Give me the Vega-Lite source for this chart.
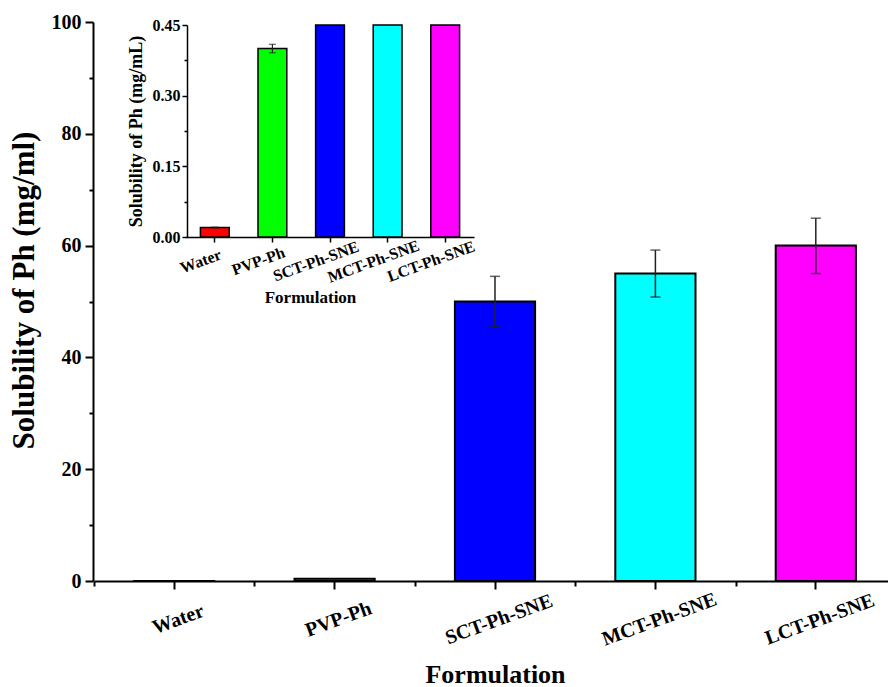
{
  "$schema": "https://vega.github.io/schema/vega-lite/v6.json",
  "autosize": "none",
  "padding": {"left": 93, "top": 22, "right": 0, "bottom": 106},
  "width": 795,
  "height": 559,
  "background": "white",
  "data": {
    "values": [
      {"f": "Water", "sol": 0.02, "lo": 0.019, "hi": 0.021},
      {"f": "PVP-Ph", "sol": 0.4, "lo": 0.391, "hi": 0.409},
      {"f": "SCT-Ph-SNE", "sol": 50, "lo": 45.5, "hi": 54.5},
      {"f": "MCT-Ph-SNE", "sol": 55, "lo": 50.8, "hi": 59.2},
      {"f": "LCT-Ph-SNE", "sol": 60, "lo": 55, "hi": 64.9}
    ]
  },
  "config": {
    "view": {"stroke": null},
    "axis": {
      "labelFont": "Liberation Serif",
      "titleFont": "Liberation Serif",
      "labelFontWeight": "bold",
      "titleFontWeight": "bold",
      "labelColor": "black",
      "titleColor": "black",
      "domainColor": "black",
      "tickColor": "black",
      "grid": false
    }
  },
  "resolve": {"scale": {"x": "independent", "y": "independent", "color": "shared"}},
  "layer": [
    {
      "layer": [
        {
          "mark": {"type": "bar", "stroke": "black", "strokeWidth": 2},
          "encoding": {
            "x": {
              "field": "f", "type": "nominal",
              "scale": {"domain": ["Water", "PVP-Ph", "SCT-Ph-SNE", "MCT-Ph-SNE", "LCT-Ph-SNE"], "range": [1, 803], "paddingInner": 0.5, "paddingOuter": 0.25},
              "axis": {
                "orient": "bottom", "title": "Formulation", "titleFontSize": 26, "titleY": 101, "titleBaseline": "alphabetic",
                "labelAngle": -20, "labelAlign": "center", "labelBaseline": "middle", "labelPadding": 30, "labelOffset": 4,
                "labelFontSize": 20, "tickSize": 8, "tickWidth": 2, "domainWidth": 2, "zindex": 1
              }
            },
            "y": {
              "field": "sol", "type": "quantitative",
              "scale": {"domain": [0, 100], "nice": false},
              "axis": {
                "orient": "left", "title": "Solubility of Ph (mg/ml)", "titleFontSize": 31, "titleX": -60, "titleY": 268,
                "titleAngle": -90, "titleAlign": "center", "titleBaseline": "alphabetic",
                "values": [0, 10, 20, 30, 40, 50, 60, 70, 80, 90, 100],
                "labelExpr": "datum.value % 20 === 0 ? datum.label : ''",
                "tickSize": {"condition": {"test": "datum.value % 20 === 0", "value": 8}, "value": 4},
                "tickWidth": 2, "domainWidth": 2, "labelFontSize": 20, "labelPadding": 4, "zindex": 1
              }
            },
            "color": {
              "field": "f", "type": "nominal",
              "scale": {"domain": ["Water", "PVP-Ph", "SCT-Ph-SNE", "MCT-Ph-SNE", "LCT-Ph-SNE"], "range": ["#ff0000", "#00ff00", "#0000ff", "#00ffff", "#ff00ff"]},
              "legend": null
            }
          }
        },
        {
          "transform": [{"filter": "datum.sol > 1"}],
          "mark": {"type": "rule", "color": "#222222", "strokeWidth": 1.5},
          "encoding": {
            "x": {"field": "f", "type": "nominal"},
            "y": {"field": "lo", "type": "quantitative"},
            "y2": {"field": "hi"}
          }
        },
        {
          "transform": [{"filter": "datum.sol > 1"}],
          "mark": {"type": "tick", "color": "#222222", "thickness": 1.5, "size": 10, "orient": "horizontal"},
          "encoding": {
            "x": {"field": "f", "type": "nominal"},
            "y": {"field": "lo", "type": "quantitative"}
          }
        },
        {
          "transform": [{"filter": "datum.sol > 1"}],
          "mark": {"type": "tick", "color": "#222222", "thickness": 1.5, "size": 10, "orient": "horizontal"},
          "encoding": {
            "x": {"field": "f", "type": "nominal"},
            "y": {"field": "hi", "type": "quantitative"}
          }
        }
      ]
    },
    {
      "mark": {"type": "bar", "opacity": 0},
      "encoding": {
        "x": {
          "field": "f", "type": "nominal",
          "scale": {"type": "band", "domain": ["Water", "PVP-Ph", "SCT-Ph-SNE", "MCT-Ph-SNE", "LCT-Ph-SNE"], "range": [1, 803], "paddingInner": 0, "paddingOuter": 0},
          "axis": {"orient": "bottom", "tickBand": "extent", "labels": false, "domain": false, "tickSize": 5, "tickWidth": 2, "title": null, "zindex": 1}
        }
      }
    },
    {
      "layer": [
        {
          "mark": {"type": "bar", "stroke": "black", "strokeWidth": 1.5},
          "encoding": {
            "x": {
              "field": "f", "type": "nominal",
              "scale": {"domain": ["Water", "PVP-Ph", "SCT-Ph-SNE", "MCT-Ph-SNE", "LCT-Ph-SNE"], "range": [93, 381], "paddingInner": 0.5, "paddingOuter": 0.25},
              "axis": {
                "orient": "bottom", "offset": -344, "title": "Formulation", "titleFontSize": 17, "titleX": 217, "titleY": 65,
                "titleAlign": "center", "titleBaseline": "alphabetic",
                "labelAngle": -20, "labelAlign": "center", "labelBaseline": "middle", "labelPadding": 19, "labelOffset": -14,
                "labelFontSize": 16, "tickSize": 5, "tickWidth": 1.5, "domainWidth": 1.5
              }
            },
            "y": {
              "field": "sol", "type": "quantitative",
              "scale": {"domain": [0, 0.45], "range": [215, 3], "clamp": true, "nice": false},
              "axis": {
                "orient": "left", "offset": -94, "title": "Solubility of Ph (mg/mL)", "titleFontSize": 18, "titleX": -46, "titleY": 109,
                "titleAngle": -90, "titleAlign": "center", "titleBaseline": "alphabetic",
                "values": [0, 0.075, 0.15, 0.225, 0.3, 0.375, 0.45], "format": ".2f",
                "labelExpr": "indexof([0, 0.15, 0.3, 0.45], datum.value) >= 0 ? datum.label : ''",
                "tickSize": {"condition": {"test": "indexof([0, 0.15, 0.3, 0.45], datum.value) >= 0", "value": 5}, "value": 3},
                "tickWidth": 1.5, "domainWidth": 1.5, "labelFontSize": 16, "labelPadding": 2
              }
            },
            "color": {"field": "f", "type": "nominal", "legend": null}
          }
        },
        {
          "transform": [{"filter": "datum.sol < 1"}],
          "mark": {"type": "rule", "color": "#222222", "strokeWidth": 1.2},
          "encoding": {
            "x": {"field": "f", "type": "nominal"},
            "y": {"field": "lo", "type": "quantitative"},
            "y2": {"field": "hi"}
          }
        },
        {
          "transform": [{"filter": "datum.sol < 1"}],
          "mark": {"type": "tick", "color": "#222222", "thickness": 1.2, "size": 7, "orient": "horizontal"},
          "encoding": {
            "x": {"field": "f", "type": "nominal"},
            "y": {"field": "lo", "type": "quantitative"}
          }
        },
        {
          "transform": [{"filter": "datum.sol < 1"}],
          "mark": {"type": "tick", "color": "#222222", "thickness": 1.2, "size": 7, "orient": "horizontal"},
          "encoding": {
            "x": {"field": "f", "type": "nominal"},
            "y": {"field": "hi", "type": "quantitative"}
          }
        }
      ]
    }
  ]
}
